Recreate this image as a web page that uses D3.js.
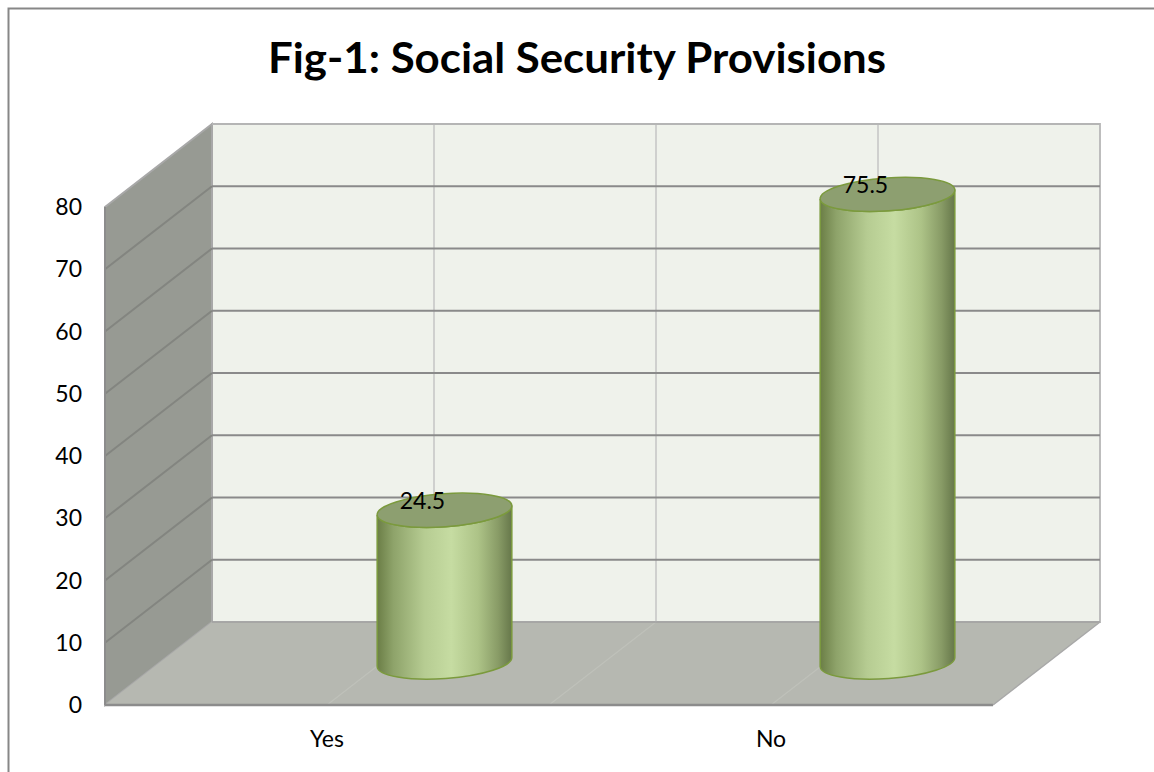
<!DOCTYPE html>
<html>
<head>
<meta charset="utf-8">
<script src="https://cdn.jsdelivr.net/npm/d3@7"></script>
<style>
  body { margin: 0; background: #fff; }
  text { font-family: Lato, "Open Sans", sans-serif; fill: #000; }
</style>
</head>
<body>
<div id="chart"></div>
<script>
// data
var categories = ["Yes", "No"];
var values = [24.5, 75.5];
var yTicks = [0, 10, 20, 30, 40, 50, 60, 70, 80];
var title = "Fig-1: Social Security Provisions";

var width = 1154, height = 772;

// 3d box corners (oblique projection)
var front = {left: 105, right: 993, bottom: 705, top: 207};
var depth = {dx: 107, dy: -83};

// scales
var yFront = d3.scaleLinear().domain([0, 80]).range([front.bottom, front.top]);
var yBack = d3.scaleLinear().domain([0, 80]).range([front.bottom + depth.dy, front.top + depth.dy]);
// cylinders sit about mid-depth
var yMid = d3.scaleLinear().domain([0, 80]).range([662, 662 - 498 * 0.995]);

var xFront = d3.scaleBand().domain(categories).range([front.left, front.right]);
var xBack = d3.scaleBand().domain(categories).range([front.left + depth.dx, front.right + depth.dx]);
var xBar = d3.scaleBand().domain(categories).range([223, 1109]);

var svg = d3.select("#chart").append("svg")
    .attr("width", width)
    .attr("height", height);

var defs = svg.append("defs");
var grad = defs.append("linearGradient")
    .attr("id", "cyl")
    .attr("x1", 0).attr("x2", 1).attr("y1", 0).attr("y2", 0);
[[0, "#6b7e46"], [0.12, "#8ea36a"], [0.35, "#b6cc92"], [0.55, "#c6dca2"],
 [0.75, "#adc387"], [0.9, "#889b66"], [1, "#66774a"]].forEach(function(s) {
  grad.append("stop").attr("offset", s[0]).attr("stop-color", s[1]);
});

// outer chart frame (right/bottom edges fall outside the picture)
svg.append("rect")
    .attr("x", 8.5).attr("y", 8.5)
    .attr("width", 1160).attr("height", 780)
    .attr("fill", "none")
    .attr("stroke", "#878787")
    .attr("stroke-width", 2);

// title
svg.append("text")
    .attr("x", width / 2)
    .attr("y", 73)
    .attr("text-anchor", "middle")
    .style("font-size", "42px")
    .style("font-weight", "bold")
    .attr("textLength", 618)
    .attr("lengthAdjust", "spacingAndGlyphs")
    .text(title);

var x0 = front.left, x1 = front.right, bx0 = x0 + depth.dx, bx1 = x1 + depth.dx;

// back wall
svg.append("rect")
    .attr("x", bx0).attr("y", yBack(80))
    .attr("width", bx1 - bx0).attr("height", yBack(0) - yBack(80))
    .attr("fill", "#eff2eb")
    .attr("stroke", "#bdbdbd")
    .attr("stroke-width", 2);

// left wall
svg.append("polygon")
    .attr("points", [[x0, yFront(80)], [bx0, yBack(80)], [bx0, yBack(0)], [x0, yFront(0)]].join(" "))
    .attr("fill", "#979a93")
    .attr("stroke", "#a8a8a8")
    .attr("stroke-width", 2);

// floor
svg.append("polygon")
    .attr("points", [[x0, yFront(0)], [bx0, yBack(0)], [bx1, yBack(0)], [x1, yFront(0)]].join(" "))
    .attr("fill", "#b6b8b1");

// vertical gridlines on back wall and faint floor lines
var vLines = [xBack("Yes") + xBack.bandwidth() / 2, xBack("No"), xBack("No") + xBack.bandwidth() / 2];
svg.selectAll(".vgrid")
    .data(vLines)
  .enter().append("line")
    .attr("x1", function(d) { return d; }).attr("x2", function(d) { return d; })
    .attr("y1", yBack(80)).attr("y2", yBack(0))
    .attr("stroke", "#c4c4c4")
    .attr("stroke-width", 1.5);
svg.selectAll(".fgrid")
    .data(vLines)
  .enter().append("line")
    .attr("x1", function(d) { return d; }).attr("x2", function(d) { return d - depth.dx; })
    .attr("y1", yBack(0)).attr("y2", yFront(0))
    .attr("stroke", "#bfc1ba")
    .attr("stroke-width", 1.2);

// horizontal gridlines: back wall + side wall
var gridVals = yTicks.filter(function(d) { return d > 0 && d < 80; });
svg.selectAll(".hgrid")
    .data(gridVals)
  .enter().append("line")
    .attr("x1", bx0).attr("x2", bx1)
    .attr("y1", function(d) { return yBack(d); })
    .attr("y2", function(d) { return yBack(d); })
    .attr("stroke", "#8a8a8a")
    .attr("stroke-width", 2);
svg.selectAll(".sgrid")
    .data(gridVals)
  .enter().append("line")
    .attr("x1", x0).attr("x2", bx0)
    .attr("y1", function(d) { return yFront(d); })
    .attr("y2", function(d) { return yBack(d); })
    .attr("stroke", "#838580")
    .attr("stroke-width", 2);

// back wall top and bottom edges
svg.append("line")
    .attr("x1", bx0).attr("x2", bx1).attr("y1", yBack(80)).attr("y2", yBack(80))
    .attr("stroke", "#b5b5b5").attr("stroke-width", 2);
svg.append("line")
    .attr("x1", bx0).attr("x2", bx1).attr("y1", yBack(0)).attr("y2", yBack(0))
    .attr("stroke", "#a0a0a0").attr("stroke-width", 1.5);

// floor front edge and right edge
svg.append("line")
    .attr("x1", x0).attr("x2", x1).attr("y1", yFront(0)).attr("y2", yFront(0))
    .attr("stroke", "#8c8c8c").attr("stroke-width", 2.5);
svg.append("line")
    .attr("x1", x1).attr("x2", bx1).attr("y1", yFront(0)).attr("y2", yBack(0))
    .attr("stroke", "#a8a8a8").attr("stroke-width", 1.5);
svg.append("line")
    .attr("x1", x0).attr("x2", x0).attr("y1", yFront(80)).attr("y2", yFront(0))
    .attr("stroke", "#8c8c8c").attr("stroke-width", 2);

// cylinders
var rx = 67.5, ry = 16.5, tilt = -4;
var ca = rx * Math.cos(tilt * Math.PI / 180), sa = rx * Math.sin(-tilt * Math.PI / 180);

var bars = svg.selectAll(".bar")
    .data(categories.map(function(c, i) { return {cat: c, value: values[i]}; }))
  .enter().append("g")
    .attr("class", "bar");

bars.append("path")
    .attr("d", function(d) {
      var cx = xBar(d.cat) + xBar.bandwidth() / 2;
      var yt = yMid(d.value), yb = yMid(0);
      return "M" + (cx - ca) + "," + (yt + sa) +
        "L" + (cx - ca) + "," + (yb + sa) +
        "A" + rx + "," + ry + " " + tilt + " 0 0 " + (cx + ca) + "," + (yb - sa) +
        "L" + (cx + ca) + "," + (yt - sa) +
        "A" + rx + "," + ry + " " + tilt + " 0 1 " + (cx - ca) + "," + (yt + sa) + "Z";
    })
    .attr("fill", "url(#cyl)")
    .attr("stroke", "#7b9a3d")
    .attr("stroke-width", 1.5);

bars.append("ellipse")
    .attr("transform", function(d) {
      var cx = xBar(d.cat) + xBar.bandwidth() / 2;
      return "translate(" + cx + "," + yMid(d.value) + ") rotate(" + tilt + ")";
    })
    .attr("rx", rx).attr("ry", ry)
    .attr("fill", "#8d9f70")
    .attr("stroke", "#7b9a3d")
    .attr("stroke-width", 1.5);

// value labels
bars.append("text")
    .attr("x", function(d) { return xBar(d.cat) + xBar.bandwidth() / 2 - 22; })
    .attr("y", function(d) { return yMid(d.value) - 1; })
    .attr("text-anchor", "middle")
    .style("font-size", "23px")
    .text(function(d) { return d.value; });

// y axis labels
svg.selectAll(".ylab")
    .data(yTicks)
  .enter().append("text")
    .attr("x", 82)
    .attr("y", function(d) { return yFront(d); })
    .attr("dy", "0.35em")
    .attr("text-anchor", "end")
    .style("font-size", "23px")
    .text(function(d) { return d; });

// x axis labels
svg.selectAll(".xlab")
    .data(categories)
  .enter().append("text")
    .attr("x", function(d) { return xFront(d) + xFront.bandwidth() / 2; })
    .attr("y", 747)
    .attr("text-anchor", "middle")
    .style("font-size", "23px")
    .text(function(d) { return d; });
</script>
</body>
</html>
